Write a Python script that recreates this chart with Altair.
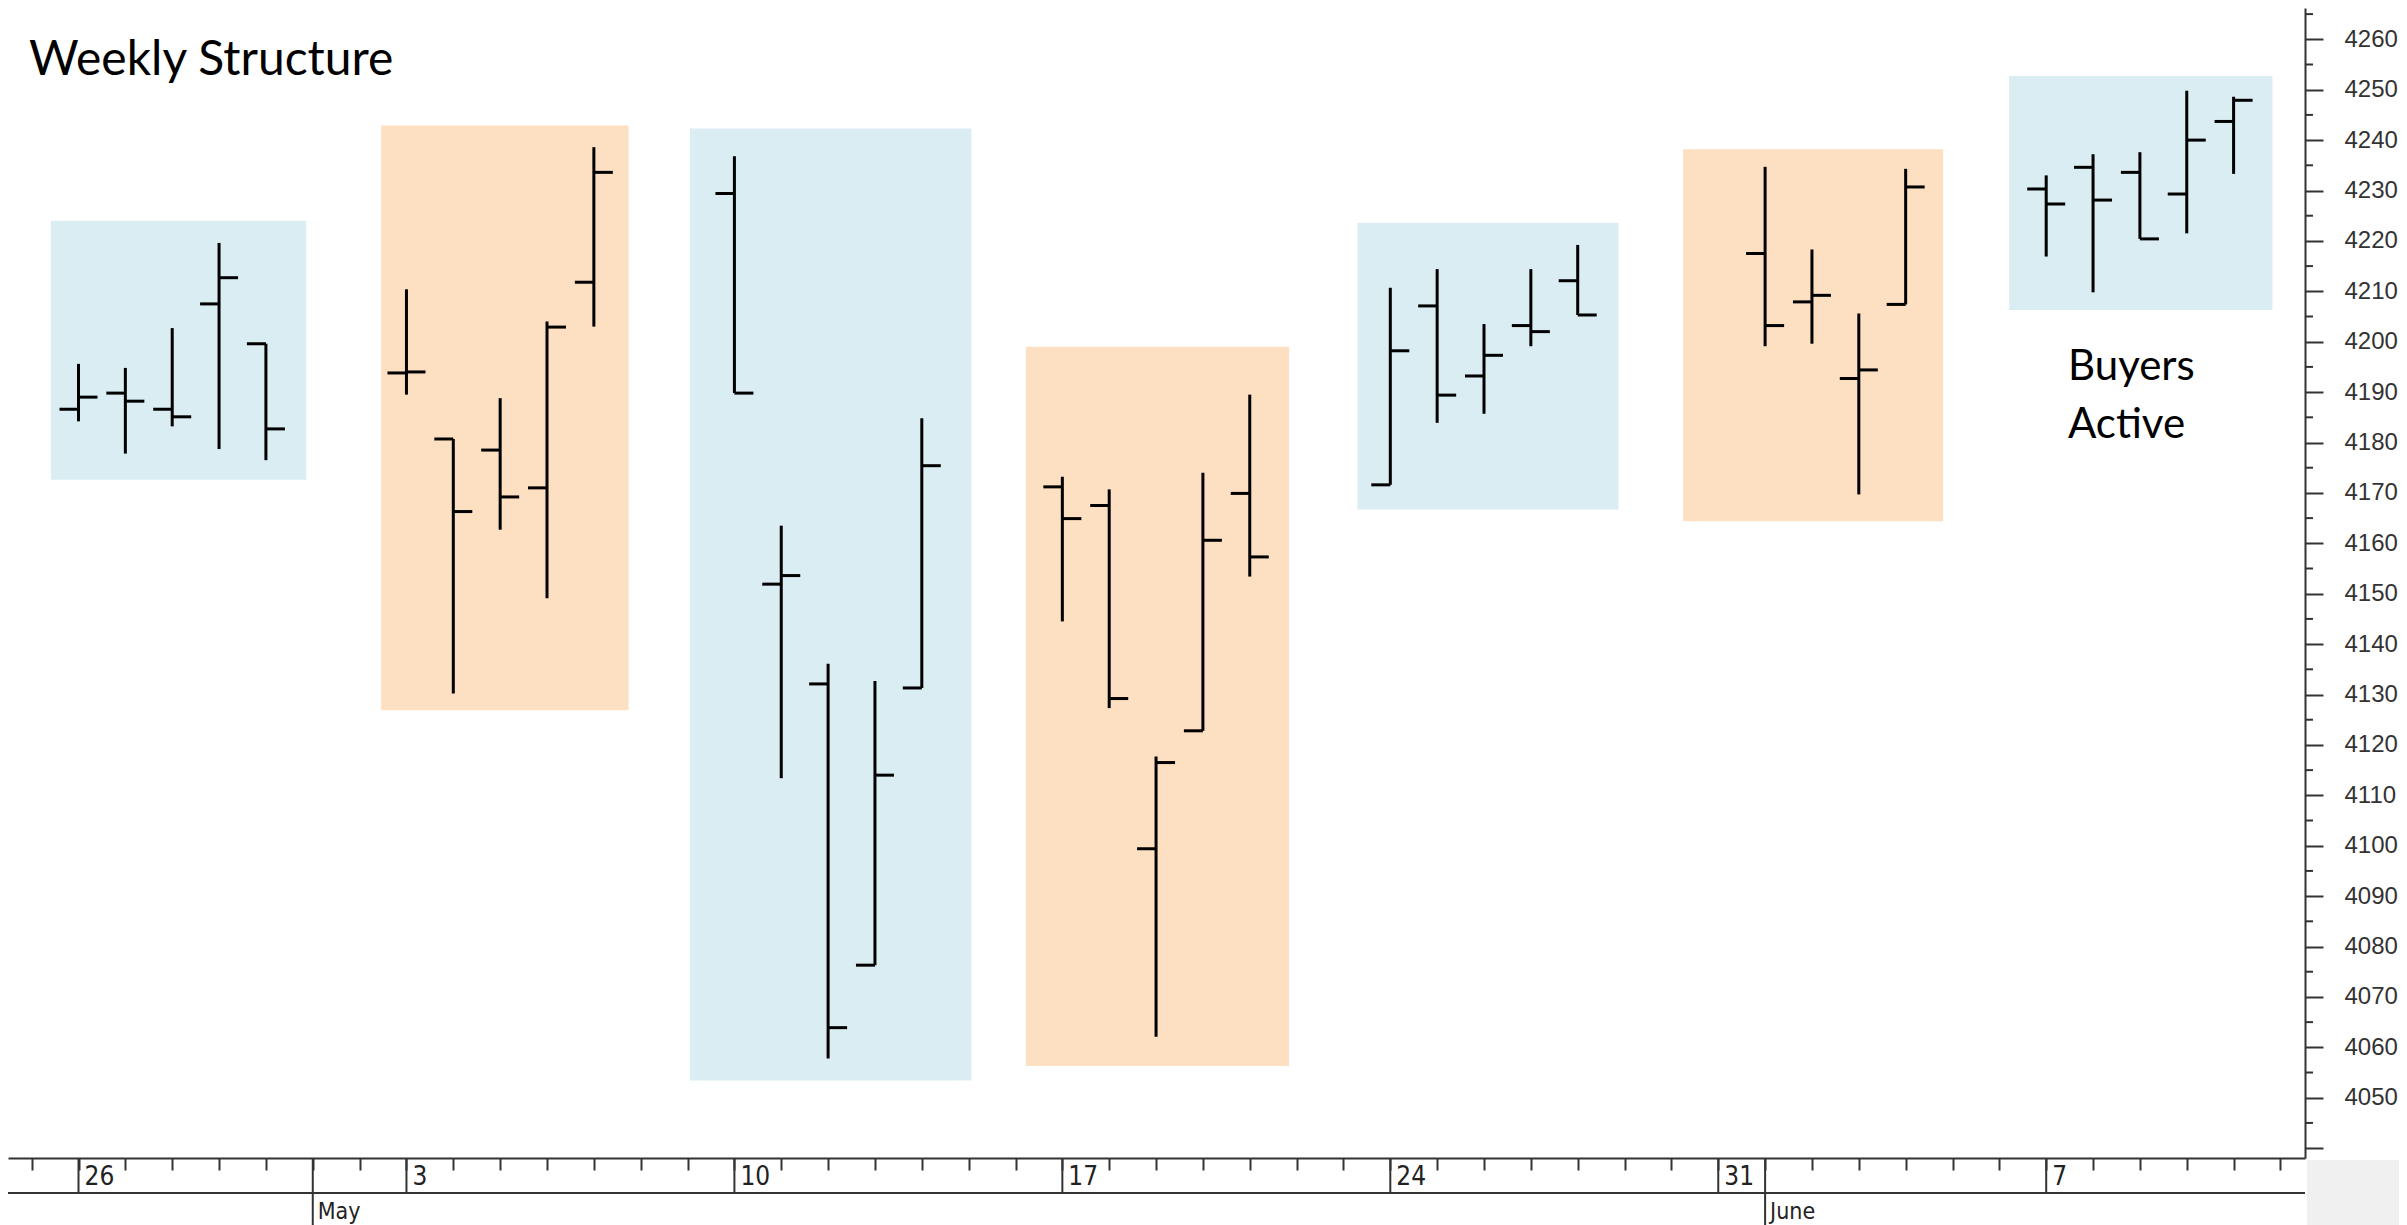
import altair as alt
import pandas as pd

# ---- data (day index 0 = Monday 26 April) ----
days = [0, 1, 2, 3, 4,
        7, 8, 9, 10, 11,
        14, 15, 16, 17, 18,
        21, 22, 23, 24, 25,
        28, 29, 30, 31, 32,
        36, 37, 38, 39,
        42, 43, 44, 45, 46]
opens = [4186.6, 4189.8, 4186.6, 4207.5, 4199.6,
         4193.8, 4180.7, 4178.5, 4171.0, 4211.8,
         4229.4, 4151.9, 4132.1, 4076.3, 4131.3,
         4171.2, 4167.5, 4099.4, 4122.8, 4169.9,
         4171.6, 4207.1, 4193.2, 4203.2, 4212.1,
         4217.5, 4207.9, 4192.7, 4207.4,
         4230.3, 4234.6, 4233.6, 4229.3, 4243.7]
highs = [4195.6, 4194.8, 4202.7, 4219.6, 4199.6,
         4210.4, 4180.7, 4188.8, 4204.0, 4238.6,
         4236.8, 4163.5, 4136.1, 4132.7, 4184.8,
         4173.2, 4170.7, 4117.7, 4174.0, 4189.5,
         4210.7, 4214.4, 4203.5, 4214.4, 4219.2,
         4234.7, 4218.3, 4205.6, 4234.3,
         4233.0, 4237.2, 4237.6, 4249.8, 4248.6]
lows = [4184.2, 4177.8, 4183.2, 4178.7, 4176.5,
        4189.5, 4130.2, 4162.7, 4149.1, 4203.0,
        4189.8, 4113.4, 4057.8, 4076.3, 4131.3,
        4144.5, 4127.3, 4062.1, 4122.8, 4153.4,
        4171.6, 4183.9, 4185.7, 4199.1, 4205.3,
        4199.1, 4199.6, 4169.7, 4207.4,
        4216.9, 4209.8, 4220.4, 4221.5, 4233.3]
closes = [4189.0, 4188.2, 4185.1, 4212.7, 4182.7,
          4194.0, 4166.3, 4169.2, 4202.9, 4233.6,
          4189.8, 4153.6, 4063.9, 4114.0, 4175.4,
          4164.9, 4129.2, 4116.5, 4160.6, 4157.3,
          4198.2, 4189.4, 4197.3, 4202.0, 4205.3,
          4203.2, 4209.2, 4194.4, 4230.7,
          4227.3, 4228.1, 4220.4, 4240.0, 4247.9]

# weekly structure boxes (day index, price)
box_start = [-0.59, 6.46, 13.05, 20.22, 27.30, 34.25, 41.21]
box_end = [4.86, 11.74, 19.06, 25.84, 32.87, 39.80, 46.83]
box_low = [4172.6, 4126.9, 4053.4, 4056.3, 4166.7, 4164.4, 4206.3]
box_high = [4224.0, 4242.9, 4242.3, 4199.0, 4223.6, 4238.2, 4252.7]
box_kind = ["up", "down", "up", "down", "up", "down", "up"]

# axis labels
all_days = list(range(-1, 48))
week_days = [0, 7, 14, 21, 28, 35, 42]
week_labels = ["26", "3", "10", "17", "24", "31", "7"]
month_days = [5, 36]
month_labels = ["May", "June"]
price_major = list(range(4040, 4261, 10))
price_minor = list(range(4045, 4266, 10))

title_text = "Weekly Structure"
note_text = "Buyers\nActive"

# ---- tables ----
bars = pd.DataFrame({"d": days, "o": opens, "h": highs, "l": lows, "c": closes})
boxes_df = pd.DataFrame({"x0": box_start, "x1": box_end, "lo": box_low,
                         "hi": box_high, "kind": box_kind})
weeks_df = pd.DataFrame({"d": week_days, "label": week_labels})
months_df = pd.DataFrame({"d": month_days, "label": month_labels})
minor_df = pd.DataFrame({"v": price_minor})
one = pd.DataFrame({"t": [0]})

W, H = 2297, 1150
AX = "#333333"
xs = alt.Scale(domain=[-1.505, 47.524], nice=False, zero=False)
ys = alt.Scale(domain=[4038.04, 4266.21], nice=False, zero=False)
xaxis = alt.Axis(values=all_days, labels=False, tickSize=12, tickWidth=2,
                 tickColor=AX, domainColor=AX, domainWidth=2, grid=False,
                 title=None)
yaxis = alt.Axis(orient="right", values=price_major, format="d",
                 labelExpr="datum.value < 4045 ? '' : datum.label",
                 tickSize=18, tickWidth=2, tickColor=AX, domainColor=AX,
                 domainWidth=2, labelFont="Liberation Sans", labelFontSize=24,
                 labelColor="#333333", labelPadding=21, grid=False, title=None,
                 labelOverlap=False, labelFlush=False)

def X(f):
    return alt.X(f, type="quantitative", scale=xs, axis=xaxis)

def Y(f):
    return alt.Y(f, type="quantitative", scale=ys, axis=yaxis)

boxes = alt.Chart(boxes_df).mark_rect().encode(
    x=X("x0"), x2="x1", y=Y("lo"), y2="hi",
    color=alt.Color("kind:N", scale=alt.Scale(domain=["up", "down"],
                    range=["#DAEDF3", "#FDDFC1"]), legend=None))

hl = alt.Chart(bars).mark_rule(strokeWidth=3, color="black").encode(
    x=X("d"), y=Y("l"), y2="h")
op = alt.Chart(bars).mark_tick(orient="horizontal", size=19, thickness=3,
                               xOffset=-9.5, color="black", opacity=1).encode(
    x=X("d"), y=Y("o"))
cl = alt.Chart(bars).mark_tick(orient="horizontal", size=19, thickness=3,
                               xOffset=9.5, color="black", opacity=1).encode(
    x=X("d"), y=Y("c"))

minor = alt.Chart(minor_df).mark_rule(strokeWidth=2, color=AX).encode(
    y=Y("v"), x=alt.value(W), x2=alt.value(W + 8))

grey = alt.Chart(one).mark_rect(color="#F0F0F0").encode(
    x=alt.value(W + 2), x2=alt.value(W + 110), y=alt.value(H + 2), y2=alt.value(H + 80))

row_line = alt.Chart(one).mark_rule(strokeWidth=2, color=AX).encode(
    x=alt.value(0), x2=alt.value(W), y=alt.value(H + 35))

wk_sep = alt.Chart(weeks_df).mark_rule(strokeWidth=2, color=AX).encode(
    x=X("d"), y=alt.value(H), y2=alt.value(H + 35))
mo_sep = alt.Chart(months_df).mark_rule(strokeWidth=2, color=AX).encode(
    x=X("d"), y=alt.value(H), y2=alt.value(H + 80))

narrow = "'Liberation Sans Narrow', 'DejaVu Sans Condensed', 'Liberation Sans', sans-serif"
wk_txt = alt.Chart(weeks_df).mark_text(align="left", baseline="alphabetic", dx=6,
                                       font=narrow, fontSize=26, color="#222222").encode(
    x=X("d"), y=alt.value(H + 27), text="label:N")
mo_txt = alt.Chart(months_df).mark_text(align="left", baseline="alphabetic", dx=5,
                                        font=narrow, fontSize=23, color="#222222").encode(
    x=X("d"), y=alt.value(H + 61), text="label:N")

title = alt.Chart(one).mark_text(align="left", baseline="alphabetic", font="Lato",
                                 fontSize=48, color="black").encode(
    x=alt.value(21), y=alt.value(67), text=alt.value(title_text))
note = alt.Chart(one).mark_text(align="left", baseline="alphabetic", font="Lato",
                                fontSize=42, color="black", lineBreak="\n",
                                lineHeight=57.7).encode(
    x=alt.value(2060), y=alt.value(372), text=alt.value(note_text))

chart = alt.layer(boxes, hl, op, cl, minor, grey, row_line, wk_sep, mo_sep,
                  wk_txt, mo_txt, title, note).properties(
    width=W, height=H,
    autosize=alt.AutoSizeParams(type="none"),
    padding={"left": 0, "top": 0, "right": 94, "bottom": 67},
    background="white",
).configure_view(stroke=None)

chart.save("out.html", embed_options={"renderer": "svg", "actions": False})
